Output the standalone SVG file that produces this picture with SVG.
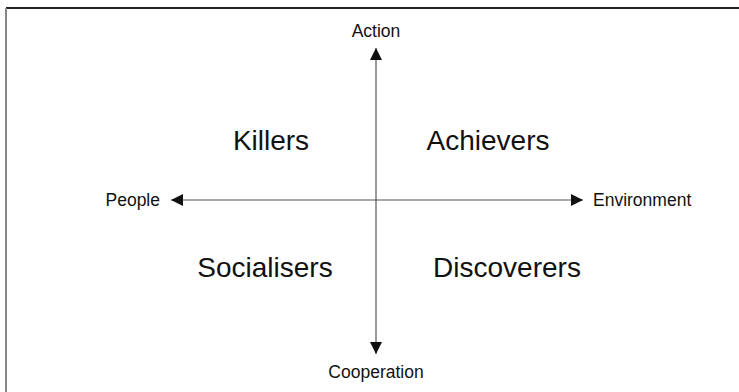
<svg xmlns="http://www.w3.org/2000/svg" width="739" height="392" viewBox="0 0 739 392">
<style>
.big{font-family:"Liberation Sans",Arial,sans-serif;font-size:28px;fill:#111;text-anchor:middle}
.lbl{font-family:"Liberation Sans",Arial,sans-serif;font-size:17.5px;fill:#111}
.axis{stroke:#555;stroke-width:1.2;fill:none}
</style>
<defs>
<marker id="ah" viewBox="0 0 10 10" refX="10" refY="5" markerWidth="14" markerHeight="12" markerUnits="userSpaceOnUse" orient="auto">
<path d="M0,0 L10,5 L0,10 z" fill="#111"/>
</marker>
</defs>
<rect x="0" y="0" width="739" height="392" fill="#fff"/>
<line x1="6" y1="8" x2="739" y2="8" stroke="#222" stroke-width="2"/>
<line x1="6" y1="8" x2="6" y2="392" stroke="#888" stroke-width="2"/>
<g id="connectors">
<line class="axis" x1="376" y1="200" x2="376" y2="48" marker-end="url(#ah)"/>
<line class="axis" x1="376" y1="200" x2="376" y2="354" marker-end="url(#ah)"/>
<line class="axis" x1="376" y1="200" x2="171" y2="200" marker-end="url(#ah)"/>
<line class="axis" x1="376" y1="200" x2="583" y2="200" marker-end="url(#ah)"/>
</g>
<g id="action"><text class="lbl" x="376" y="37" text-anchor="middle">Action</text></g>
<g id="cooperation"><text class="lbl" x="376" y="378" text-anchor="middle">Cooperation</text></g>
<g id="people"><text class="lbl" x="160" y="206" text-anchor="end">People</text></g>
<g id="environment"><text class="lbl" x="593" y="206">Environment</text></g>
<g id="killers"><text class="big" x="271" y="150">Killers</text></g>
<g id="achievers"><text class="big" x="488" y="150">Achievers</text></g>
<g id="socialisers"><text class="big" x="265" y="277">Socialisers</text></g>
<g id="discoverers"><text class="big" x="507" y="277">Discoverers</text></g>
</svg>
